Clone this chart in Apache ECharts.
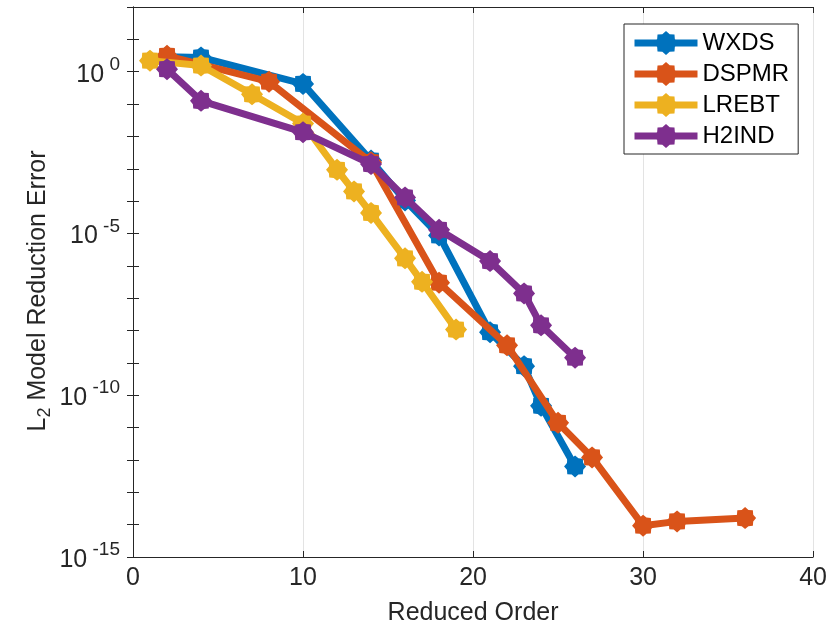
<!DOCTYPE html>
<html>
<head>
<meta charset="utf-8">
<title>L2 Model Reduction Error</title>
<script src="https://cdn.jsdelivr.net/npm/echarts@6/dist/echarts.min.js"></script>
<style>
  html, body { margin: 0; padding: 0; background: #fff; }
  #main { width: 830px; height: 631px; }
</style>
</head>
<body>
<div id="main"></div>
<script>
// series data (x = reduced order, y = error)
var wxdsX = [2, 4, 10, 14, 16, 18, 21, 23, 24, 26];
var wxdsY = [2.9, 2.75, 0.42, 1.8e-3, 1.05e-4, 8.7e-6, 8.9e-9, 7.9e-10, 4.7e-11, 6.3e-13];

var dspmrX = [2, 8, 14, 18, 22, 25, 27, 30, 32, 36];
var dspmrY = [3.1, 0.49, 1.6e-3, 3.0e-7, 3.5e-9, 1.4e-11, 1.2e-12, 9.3e-15, 1.26e-14, 1.6e-14];

var lrebtX = [1, 4, 7, 10, 12, 13, 14, 16, 17, 19];
var lrebtY = [2.2, 1.55, 0.2, 0.025, 9.3e-4, 2.0e-4, 4.3e-5, 1.7e-6, 3.2e-7, 1.07e-8];

var h2indX = [2, 4, 10, 14, 16, 18, 21, 23, 24, 26];
var h2indY = [1.2, 0.126, 0.0135, 1.4e-3, 1.3e-4, 1.3e-5, 1.4e-6, 1.4e-7, 1.45e-8, 1.45e-9];

var seriesNames = ["WXDS", "DSPMR", "LREBT", "H2IND"];
var colorList = ["#0072BD", "#D95319", "#EDB120", "#7E2F8E"];

var font = "Liberation Sans, Arial, sans-serif";
var ink = "#262626";

// fat asterisk-like marker
function starPath() {
  var pts = [];
  for (var i = 0; i < 16; i++) {
    var a = (i * Math.PI) / 8;
    var r = i % 2 === 0 ? 1 : 0.8;
    pts.push((Math.cos(a) * r).toFixed(3) + "," + (Math.sin(a) * r).toFixed(3));
  }
  return "path://M" + pts.join("L") + "Z";
}
var marker = starPath();

function pairs(xs, ys) {
  return xs.map(function (x, i) {
    return [x, ys[i]];
  });
}

var allData = [
  pairs(wxdsX, wxdsY),
  pairs(dspmrX, dspmrY),
  pairs(lrebtX, lrebtY),
  pairs(h2indX, h2indY),
];

var myChart = echarts.init(document.getElementById("main"));

var option = {
  backgroundColor: "#fff",
  animation: false,
  grid: {
    left: 133,
    right: 13,
    top: 7,
    bottom: 74,
  },
  legend: {
    left: 624,
    top: 24,
    orient: "vertical",
    itemWidth: 63,
    itemHeight: 30,
    itemGap: 7,
    padding: [7, 9, 6, 7],
    borderColor: ink,
    borderWidth: 1,
    backgroundColor: "#fff",
    lineStyle: { width: 7 },
    textStyle: {
      color: "#000",
      fontSize: 24,
      fontFamily: font,
    },
    data: seriesNames,
  },
  xAxis: [
    {
      type: "value",
      min: 0,
      max: 40,
      interval: 10,
      name: "Reduced Order",
      nameLocation: "middle",
      nameGap: 44,
      nameTextStyle: { color: ink, fontSize: 25, fontFamily: font },
      axisLine: { lineStyle: { color: ink, width: 1 } },
      axisTick: { inside: true, length: 6, lineStyle: { color: ink } },
      axisLabel: { color: ink, fontSize: 25, fontFamily: font, margin: 9 },
      splitLine: { show: true, lineStyle: { color: "#e3e3e3", width: 1 } },
    },
    {
      type: "value",
      position: "top",
      min: 0,
      max: 40,
      interval: 10,
      axisLine: { lineStyle: { color: ink, width: 1 } },
      axisTick: { inside: true, length: 6, lineStyle: { color: ink } },
      axisLabel: { show: false },
      splitLine: { show: false },
    },
  ],
  yAxis: [
    {
      type: "log",
      logBase: 10,
      min: 1e-15,
      max: 1e2,
      interval: 1,
      name: "L{sub|2} Model Reduction Error",
      nameLocation: "middle",
      nameGap: 79,
      nameMoveOverlap: false,
      nameTextStyle: {
        color: ink,
        fontSize: 25,
        fontFamily: font,
        padding: [0, 18, 0, 0],
        rich: {
          sub: { fontSize: 18, color: ink, fontFamily: font, padding: [13, 0, 0, 0] },
        },
      },
      axisLine: { lineStyle: { color: ink, width: 1 } },
      axisTick: { inside: true, length: 6, lineStyle: { color: ink } },
      axisLabel: {
        margin: 13,
        formatter: function (v) {
          var e = Math.round(Math.log10(v));
          if (e % 5 !== 0) return "";
          return "{b|10}{s| " + e + "}";
        },
        rich: {
          b: { fontSize: 25, color: ink, fontFamily: font, padding: [6, 0, 0, 0] },
          s: { fontSize: 19, color: ink, fontFamily: font, padding: [0, 0, 14, 0] },
        },
      },
      splitLine: { show: false },
    },
    {
      type: "log",
      logBase: 10,
      position: "right",
      min: 1e-15,
      max: 1e2,
      interval: 1,
      axisLine: { show: true, lineStyle: { color: ink, width: 1 } },
      axisTick: { inside: true, length: 6, lineStyle: { color: ink } },
      axisLabel: { show: false },
      splitLine: { show: false },
    },
  ],
  series: seriesNames.map(function (name, i) {
    return {
      name: name,
      type: "line",
      xAxisIndex: 0,
      yAxisIndex: 0,
      data: allData[i],
      symbol: marker,
      symbolSize: 22,
      showSymbol: true,
      color: colorList[i],
      lineStyle: { width: 7, color: colorList[i] },
      itemStyle: { color: colorList[i] },
      z: 2 + i,
    };
  }),
};

myChart.setOption(option);
</script>
</body>
</html>
